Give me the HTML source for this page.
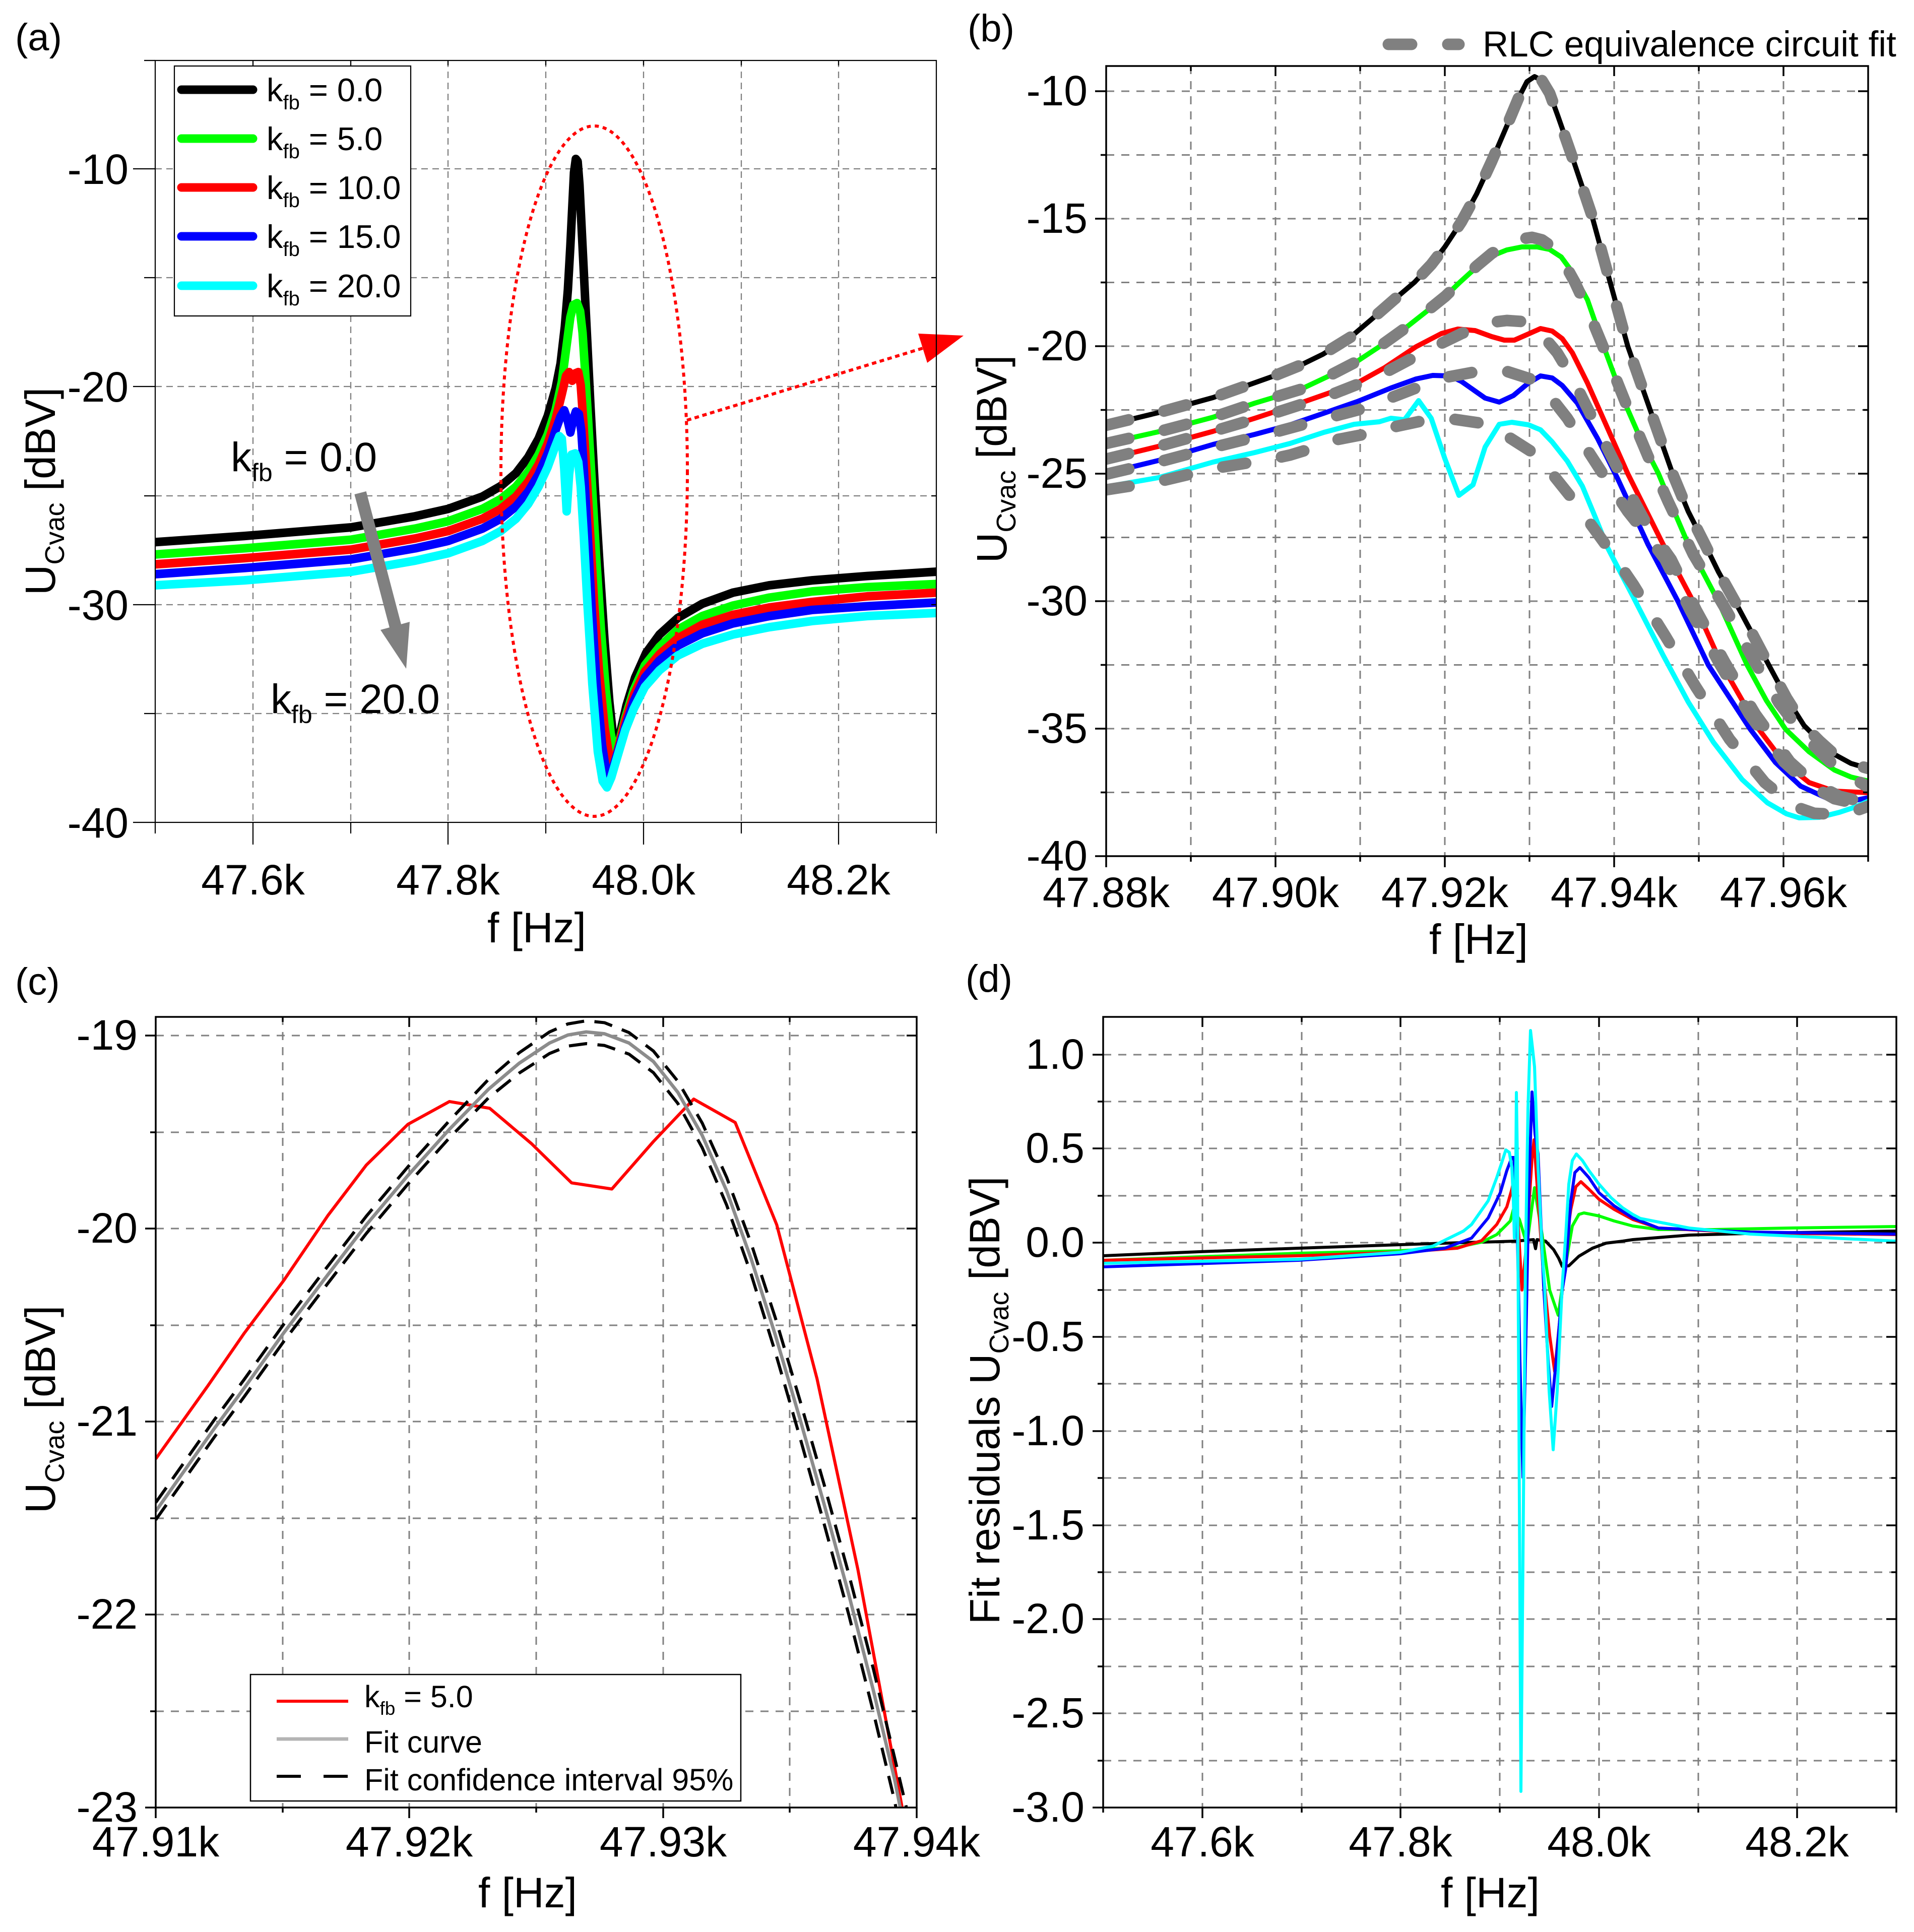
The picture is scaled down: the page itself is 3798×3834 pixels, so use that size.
<!DOCTYPE html>
<html><head><meta charset="utf-8"><style>
html,body{margin:0;padding:0;background:#fff;}
svg{display:block;}
text{font-family:"Liberation Sans",Arial,sans-serif;fill:#000;}
</style></head><body>
<svg xmlns="http://www.w3.org/2000/svg" width="3798" height="3834" viewBox="0 0 3798 3834">
<defs>
<clipPath id="ca"><rect x="308" y="120" width="1550" height="1512"/></clipPath>
<clipPath id="cb"><rect x="2195" y="131" width="1512" height="1568"/></clipPath>
<clipPath id="cc"><rect x="309" y="2018" width="1510" height="1569"/></clipPath>
<clipPath id="cd"><rect x="2189" y="2018" width="1574" height="1569"/></clipPath>
</defs>
<rect width="3798" height="3834" fill="#fff"/>

<!-- ================= PANEL A ================= -->
<g stroke="#808080" stroke-width="2.3" stroke-dasharray="13 9" fill="none">
<path d="M502,120V1632M696,120V1632M889,120V1632M1083,120V1632M1277,120V1632M1471,120V1632M1664,120V1632"/>
<path d="M308,335H1858M308,551H1858M308,767H1858M308,984H1858M308,1200H1858M308,1416H1858"/>
</g>
<g clip-path="url(#ca)"><g transform="scale(1.2117,1.2226)" fill="none" stroke-width="14" stroke-linejoin="round" stroke-linecap="round">
<path stroke="#000" d="M254,880 L400,870 L575,856 L680,838 L734,826 L790,806 L820,789 L845,768 L865,742 L882,712 L897,675 L910,630 L918,590 L925,530 L930,470 L934,400 L937,340 L940,280 L943,258 L946,262 L949,300 L952,360 L956,440 L961,540 L967,660 L974,790 L982,920 L990,1040 L998,1140 L1004,1195 L1009,1212 L1016,1188 L1026,1145 L1040,1100 L1058,1060 L1080,1030 L1110,1003 L1150,980 L1200,962 L1260,950 L1330,942 L1420,935 L1533,928"/>
<path stroke="#00ff00" d="M254,900 L400,890 L575,876 L680,858 L734,846 L790,826 L820,810 L845,790 L865,766 L882,738 L897,705 L910,665 L920,620 L928,560 L934,515 L939,495 L945,492 L950,505 L954,540 L958,600 L963,680 L969,780 L976,900 L984,1020 L992,1120 L1000,1190 L1007,1225 L1014,1205 L1024,1165 L1038,1120 L1056,1080 L1080,1050 L1110,1022 L1150,1000 L1200,983 L1260,970 L1330,960 L1420,953 L1533,948"/>
<path stroke="#ff0000" d="M254,916 L400,906 L575,892 L680,874 L734,862 L790,842 L820,826 L845,806 L865,782 L882,754 L897,720 L910,680 L920,640 L927,610 L932,604 L937,618 L942,606 L947,604 L951,625 L955,680 L960,760 L966,860 L973,980 L981,1090 L990,1180 L998,1230 L1005,1240 L1013,1212 L1024,1170 L1038,1128 L1056,1090 L1080,1062 L1110,1036 L1150,1014 L1200,998 L1260,986 L1330,977 L1420,968 L1533,962"/>
<path stroke="#0000ff" d="M254,932 L400,922 L575,908 L680,890 L734,878 L790,858 L820,842 L845,822 L865,798 L882,770 L897,736 L910,698 L918,676 L924,666 L929,680 L934,702 L939,680 L943,668 L948,672 L952,700 L956,760 L962,860 L969,990 L977,1110 L986,1210 L994,1260 L1001,1255 L1012,1220 L1024,1180 L1038,1138 L1056,1100 L1080,1072 L1110,1048 L1150,1028 L1200,1012 L1260,1000 L1330,990 L1420,984 L1533,978"/>
<path stroke="#00ffff" d="M254,950 L400,942 L575,928 L680,910 L734,898 L790,878 L820,862 L845,842 L865,818 L882,790 L897,758 L908,728 L916,708 L920,712 L924,760 L928,830 L932,770 L936,738 L942,736 L947,750 L951,790 L956,870 L962,980 L970,1110 L979,1220 L987,1268 L994,1278 L1001,1262 L1012,1225 L1024,1185 L1038,1150 L1056,1115 L1080,1088 L1110,1064 L1150,1045 L1200,1030 L1260,1018 L1330,1008 L1420,1000 L1533,995"/>
</g></g>
<!-- ellipse & arrows -->
<ellipse cx="1179" cy="935" rx="185" ry="685" fill="none" stroke="#ff0000" stroke-width="6" stroke-dasharray="8 8"/>
<line x1="1363" y1="834" x2="1831" y2="691" stroke="#ff0000" stroke-width="6" stroke-dasharray="9 7"/>
<polygon points="1912,666 1840,720 1822,662" fill="#ff0000"/>
<line x1="715" y1="978" x2="786" y2="1248" stroke="#808080" stroke-width="24"/>
<polygon points="806,1327 813,1234 755,1250" fill="#808080"/>
<!-- frame & ticks A -->
<rect x="308" y="120" width="1550" height="1512" fill="none" stroke="#000" stroke-width="2.2"/>
<path fill="none" stroke="#000" stroke-width="2.2" d="M502,1632V1676M889,1632V1676M1277,1632V1676M1664,1632V1676M308,1632V1654M696,1632V1654M1083,1632V1654M1471,1632V1654M1858,1632V1654M308,335H264M308,767H264M308,1200H264M308,1632H264M308,120H286M308,551H286M308,984H286M308,1416H286M502,120V130M696,120V130M889,120V130M1083,120V130M1277,120V130M1471,120V130M1664,120V130M1858,335H1848M1858,551H1848M1858,767H1848M1858,984H1848M1858,1200H1848M1858,1416H1848"/>
<!-- legend A -->
<rect x="346" y="131" width="469" height="496" fill="#fff" stroke="#000" stroke-width="2.2"/>
<g stroke-width="17" stroke-linecap="round">
<line x1="360" y1="178" x2="502" y2="178" stroke="#000"/>
<line x1="360" y1="275" x2="502" y2="275" stroke="#00ff00"/>
<line x1="360" y1="372" x2="502" y2="372" stroke="#ff0000"/>
<line x1="360" y1="469" x2="502" y2="469" stroke="#0000ff"/>
<line x1="360" y1="567" x2="502" y2="567" stroke="#00ffff"/>
</g>
<g font-size="65">
<text x="529" y="201">k<tspan font-size="40" dy="16">fb</tspan><tspan dy="-16"> = 0.0</tspan></text>
<text x="529" y="298">k<tspan font-size="40" dy="16">fb</tspan><tspan dy="-16"> = 5.0</tspan></text>
<text x="529" y="395">k<tspan font-size="40" dy="16">fb</tspan><tspan dy="-16"> = 10.0</tspan></text>
<text x="529" y="492">k<tspan font-size="40" dy="16">fb</tspan><tspan dy="-16"> = 15.0</tspan></text>
<text x="529" y="590">k<tspan font-size="40" dy="16">fb</tspan><tspan dy="-16"> = 20.0</tspan></text>
</g>
<text x="458" y="935" font-size="82">k<tspan font-size="50" dy="20">fb</tspan><tspan dy="-20"> = 0.0</tspan></text>
<text x="537" y="1415" font-size="82">k<tspan font-size="50" dy="20">fb</tspan><tspan dy="-20"> = 20.0</tspan></text>
<!-- labels A -->
<g font-size="84" text-anchor="end">
<text x="255" y="365">-10</text><text x="255" y="797">-20</text><text x="255" y="1230">-30</text><text x="255" y="1662">-40</text>
</g>
<g font-size="84" text-anchor="middle">
<text x="502" y="1775">47.6k</text><text x="889" y="1775">47.8k</text><text x="1277" y="1775">48.0k</text><text x="1664" y="1775">48.2k</text>
<text x="1065" y="1870">f [Hz]</text>
<text transform="translate(109,975) rotate(-90)">U<tspan font-size="54" dy="18">Cvac</tspan><tspan dy="-18"> [dBV]</tspan></text>
</g>
<text x="30" y="100" font-size="76">(a)</text>

<!-- ================= PANEL B ================= -->
<g stroke="#808080" stroke-width="3" stroke-dasharray="16 14" fill="none">
<path d="M2363,131V1699M2531,131V1699M2699,131V1699M2867,131V1699M3035,131V1699M3203,131V1699M3371,131V1699M3539,131V1699"/>
<path d="M2195,181H3707M2195,307.5H3707M2195,434H3707M2195,560.5H3707M2195,687H3707M2195,813.5H3707M2195,940H3707M2195,1066.5H3707M2195,1193H3707M2195,1319.5H3707M2195,1446H3707M2195,1572.5H3707"/>
</g>
<g clip-path="url(#cb)" fill="none" stroke-linejoin="round" stroke-linecap="round">
<g stroke-width="10">
<path stroke="#000" d="M2195,844 L2298,819 L2407,789 L2528,746 L2580,725 L2625,703 L2680,669 L2720,635 L2767,594 L2807,560 L2840,525 L2867,490 L2900,440 L2930,385 L2960,320 L2990,250 L3013,195 L3030,162 L3045,152 L3060,160 L3075,185 L3092,232 L3122,318 L3158,425 L3195,560 L3230,687 L3275,815 L3319,940 L3350,1015 L3383,1080 L3410,1135 L3443,1194 L3480,1263 L3510,1320 L3545,1385 L3580,1440 L3610,1470 L3640,1497 L3673,1515 L3707,1525"/>
<path stroke="#00ff00" d="M2195,880 L2298,857 L2407,828 L2490,800 L2580,773 L2633,748 L2693,717 L2737,688 L2790,650 L2837,613 L2868,588 L2897,560 L2930,530 L2960,508 L2990,496 L3020,490 L3050,490 L3075,495 L3098,510 L3120,540 L3150,595 L3182,687 L3220,790 L3255,870 L3291,940 L3320,1010 L3350,1080 L3410,1194 L3467,1320 L3505,1390 L3543,1447 L3590,1492 L3640,1528 L3673,1542 L3707,1550"/>
<path stroke="#ff0000" d="M2195,911 L2298,886 L2407,856 L2490,830 L2560,807 L2637,780 L2693,760 L2747,730 L2810,688 L2860,662 L2893,653 L2927,656 L2960,668 L2985,675 L3005,675 L3030,664 L3057,652 L3080,657 L3100,672 L3120,700 L3150,760 L3190,850 L3230,940 L3265,1010 L3300,1080 L3360,1194 L3417,1320 L3490,1447 L3540,1513 L3590,1553 L3640,1570 L3707,1573"/>
<path stroke="#0000ff" d="M2195,939 L2298,914 L2407,882 L2490,862 L2560,843 L2627,820 L2693,797 L2760,770 L2810,752 L2843,745 L2877,746 L2900,757 L2947,790 L2975,798 L3003,785 L3033,760 L3057,746 L3080,750 L3100,765 L3130,800 L3170,870 L3210,950 L3240,1015 L3270,1080 L3330,1194 L3390,1320 L3473,1447 L3523,1513 L3573,1560 L3623,1583 L3673,1590 L3707,1583"/>
<path stroke="#00ffff" d="M2195,966 L2298,948 L2407,917 L2490,898 L2560,880 L2627,858 L2687,842 L2737,837 L2760,830 L2787,833 L2815,795 L2840,830 L2867,910 L2895,983 L2923,962 L2947,887 L2975,842 L3000,838 L3033,843 L3057,853 L3080,877 L3110,915 L3140,965 L3165,1025 L3190,1087 L3240,1183 L3300,1300 L3350,1393 L3400,1473 L3457,1547 L3507,1593 L3545,1615 L3570,1623 L3610,1622 L3650,1612 L3680,1602 L3707,1590"/>
</g>
<g stroke="#808080" stroke-width="23" stroke-dasharray="46 72">
<path d="M2195,844 L2298,819 L2407,789 L2528,746 L2580,725 L2625,703 L2680,669 L2720,635 L2767,594 L2807,560 L2840,525 L2867,490 L2900,440 L2930,385 L2960,320 L2990,250 L3013,195 L3030,162 L3045,152 L3060,160 L3075,185 L3092,232 L3122,318 L3158,425 L3195,560 L3230,687 L3275,815 L3319,940 L3350,1015 L3383,1080 L3410,1135 L3443,1194 L3480,1263 L3510,1320 L3545,1385 L3580,1440 L3610,1470 L3640,1497 L3673,1515 L3707,1525"/>
<path d="M2195,880 L2298,857 L2407,828 L2490,800 L2580,773 L2633,748 L2693,717 L2737,688 L2790,650 L2837,613 L2868,588 L2897,560 L2930,528 L2960,503 L2990,485 L3020,474 L3040,471 L3060,476 L3080,490 L3100,515 L3125,560 L3155,625 L3190,710 L3230,810 L3270,905 L3310,995 L3360,1100 L3425,1210 L3480,1310 L3530,1395 L3580,1460 L3630,1510 L3670,1540 L3707,1562"/>
<path d="M2195,911 L2298,886 L2407,856 L2528,820 L2637,785 L2693,763 L2747,740 L2800,712 L2857,683 L2900,662 L2957,640 L2990,636 L3020,638 L3063,668 L3090,700 L3120,750 L3160,830 L3200,910 L3240,990 L3270,1045 L3316,1110 L3366,1211 L3423,1315 L3483,1417 L3552,1512 L3600,1555 L3650,1580 L3707,1594"/>
<path d="M2195,941 L2298,917 L2407,888 L2528,858 L2640,828 L2700,812 L2753,792 L2810,770 L2863,750 L2927,738 L2960,735 L2990,737 L3040,753 L3073,783 L3110,830 L3150,893 L3190,955 L3230,1015 L3270,1065 L3304,1110 L3354,1211 L3411,1315 L3471,1417 L3540,1512 L3590,1557 L3640,1585 L3707,1600"/>
<path d="M2195,972 L2298,956 L2407,930 L2528,910 L2560,903 L2593,893 L2650,873 L2707,862 L2767,847 L2823,835 L2860,832 L2885,832 L2940,840 L2993,867 L3040,897 L3080,940 L3120,990 L3160,1045 L3200,1100 L3241,1160 L3305,1263 L3365,1363 L3432,1467 L3502,1553 L3560,1600 L3600,1614 L3643,1616 L3680,1610 L3707,1600"/>
</g>
</g>
<rect x="2195" y="131" width="1512" height="1568" fill="none" stroke="#000" stroke-width="3.5"/>
<path fill="none" stroke="#000" stroke-width="3.5" d="M2195,1699V1721M2531,1699V1721M2867,1699V1721M3203,1699V1721M3539,1699V1721M2363,1699V1710M2699,1699V1710M3035,1699V1710M3371,1699V1710M3707,1699V1710M2195,181H2173M2195,434H2173M2195,687H2173M2195,940H2173M2195,1193H2173M2195,1446H2173M2195,1699H2173M2195,307.5H2184M2195,560.5H2184M2195,813.5H2184M2195,1066.5H2184M2195,1319.5H2184M2195,1572.5H2184M3707,181H3687M3707,434H3687M3707,687H3687M3707,940H3687M3707,1193H3687M3707,1446H3687M3707,307.5H3697M3707,560.5H3697M3707,813.5H3697M3707,1066.5H3697M3707,1319.5H3697M3707,1572.5H3697M2531,131V151M2867,131V151M3203,131V151M3539,131V151M2363,131V141M2699,131V141M3035,131V141M3371,131V141"/>
<!-- legend B -->
<g stroke="#808080" stroke-width="23" stroke-linecap="round">
<line x1="2755" y1="88" x2="2801" y2="88"/><line x1="2873" y1="88" x2="2895" y2="88"/>
</g>
<text x="2942" y="112" font-size="71">RLC equivalence circuit fit</text>
<g font-size="84" text-anchor="end">
<text x="2158" y="209">-10</text><text x="2158" y="462">-15</text><text x="2158" y="715">-20</text><text x="2158" y="968">-25</text><text x="2158" y="1221">-30</text><text x="2158" y="1474">-35</text><text x="2158" y="1727">-40</text>
</g>
<g font-size="84" text-anchor="middle">
<text x="2195" y="1800">47.88k</text><text x="2531" y="1800">47.90k</text><text x="2867" y="1800">47.92k</text><text x="3203" y="1800">47.94k</text><text x="3539" y="1800">47.96k</text>
<text x="2934" y="1893">f [Hz]</text>
<text transform="translate(1997,911) rotate(-90)">U<tspan font-size="54" dy="18">Cvac</tspan><tspan dy="-18"> [dBV]</tspan></text>
</g>
<text x="1920" y="82" font-size="76">(b)</text>

<!-- ================= PANEL C ================= -->
<g stroke="#808080" stroke-width="3" stroke-dasharray="16 14" fill="none">
<path d="M561,2018V3587M812,2018V3587M1064,2018V3587M1316,2018V3587M1567,2018V3587"/>
<path d="M309,2055H1819M309,2247H1819M309,2438H1819M309,2630H1819M309,2821H1819M309,3013H1819M309,3204H1819M309,3396H1819"/>
</g>
<g clip-path="url(#cc)"><g transform="translate(0,1917) scale(1.2117,1.2226)" fill="none" stroke-linejoin="round">
<path stroke="#ff0000" stroke-width="5" d="M255,800 L340,682 L400,596 L465,510 L537,405 L600,323 L668,257 L736,220 L802,231 L870,288 L936,352 L1002,362 L1070,285 L1136,216 L1204,254 L1272,420 L1338,670 L1405,980 L1480,1380"/>
<path stroke="#8c8c8c" stroke-width="5.5" d="M255,885 L300,822 L350,752 L400,685 L465,595 L530,510 L600,420 L668,340 L736,265 L800,200 L850,158 L900,125 L930,112 L960,107 L990,110 L1030,125 L1070,155 L1110,205 L1150,275 L1190,365 L1230,475 L1270,600 L1310,735 L1350,875 L1390,1020 L1430,1175 L1465,1320 L1477,1380"/>
<g stroke="#000" stroke-width="5" stroke-dasharray="30 17">
<path d="M255,871 L300,808 L350,738 L400,671 L465,581 L530,496 L600,406 L668,326 L736,251 L800,184 L850,141 L900,107 L930,94 L960,89 L990,92 L1030,108 L1070,138 L1110,187 L1150,255 L1190,343 L1230,450 L1270,572 L1310,705 L1350,843 L1390,987 L1430,1140 L1465,1285 L1490,1390"/>
<path d="M255,899 L300,836 L350,766 L400,699 L465,609 L530,524 L600,434 L668,354 L736,279 L800,214 L850,174 L900,142 L930,130 L960,126 L990,129 L1030,143 L1070,173 L1110,223 L1150,295 L1190,388 L1230,500 L1270,628 L1310,765 L1350,907 L1390,1053 L1430,1210 L1465,1355 L1472,1390"/>
</g>
</g></g>
<rect x="309" y="2018" width="1510" height="1569" fill="none" stroke="#000" stroke-width="3.5"/>
<path fill="none" stroke="#000" stroke-width="3.5" d="M309,3587V3608M812,3587V3608M1316,3587V3608M1819,3587V3608M561,3587V3597M1064,3587V3597M1567,3587V3597M309,2055H288M309,2438H288M309,2821H288M309,3204H288M309,3587H288M309,2247H298M309,2630H298M309,3013H298M309,3396H298M1819,2055H1799M1819,2438H1799M1819,2821H1799M1819,3204H1799M1819,2247H1809M1819,2630H1809M1819,3013H1809M1819,3396H1809M812,2018V2038M1316,2018V2038M561,2018V2028M1064,2018V2028M1567,2018V2028"/>
<!-- legend C -->
<rect x="497" y="3323" width="973" height="251" fill="#fff" stroke="#000" stroke-width="2.5"/>
<line x1="549" y1="3376" x2="691" y2="3376" stroke="#ff0000" stroke-width="6"/>
<line x1="549" y1="3451" x2="691" y2="3451" stroke="#b4b4b4" stroke-width="7"/>
<line x1="549" y1="3525" x2="691" y2="3525" stroke="#000" stroke-width="6" stroke-dasharray="48 45"/>
<g font-size="61">
<text x="723" y="3388">k<tspan font-size="37" dy="15">fb</tspan><tspan dy="-15"> = 5.0</tspan></text>
<text x="723" y="3478">Fit curve</text>
<text x="723" y="3553">Fit confidence interval 95%</text>
</g>
<g font-size="84" text-anchor="end">
<text x="273" y="2083">-19</text><text x="273" y="2466">-20</text><text x="273" y="2849">-21</text><text x="273" y="3232">-22</text><text x="273" y="3615">-23</text>
</g>
<g font-size="84" text-anchor="middle">
<text x="309" y="3684">47.91k</text><text x="812" y="3684">47.92k</text><text x="1316" y="3684">47.93k</text><text x="1819" y="3684">47.94k</text>
<text x="1047" y="3785">f [Hz]</text>
<text transform="translate(109,2797) rotate(-90)">U<tspan font-size="54" dy="18">Cvac</tspan><tspan dy="-18"> [dBV]</tspan></text>
</g>
<text x="30" y="1974" font-size="76">(c)</text>

<!-- ================= PANEL D ================= -->
<g stroke="#808080" stroke-width="3" stroke-dasharray="16 14" fill="none">
<path d="M2386,2018V3587M2583,2018V3587M2779,2018V3587M2976,2018V3587M3173,2018V3587M3370,2018V3587M3566,2018V3587"/>
<path d="M2189,2093H3763M2189,2186H3763M2189,2279H3763M2189,2373H3763M2189,2466H3763M2189,2560H3763M2189,2653H3763M2189,2746H3763M2189,2840H3763M2189,2933H3763M2189,3027H3763M2189,3120H3763M2189,3213H3763M2189,3307H3763M2189,3400H3763M2189,3494H3763"/>
</g>
<g clip-path="url(#cd)" fill="none" stroke-width="6" stroke-linejoin="round">
<path stroke="#000" d="M2189,2492 L2380,2484 L2577,2477 L2779,2470 L2900,2466 L2976,2464 L3007,2463 L3043,2460 L3047,2478 L3050,2460 L3067,2463 L3083,2480 L3093,2497 L3100,2513 L3113,2512 L3133,2493 L3160,2477 L3187,2467 L3220,2463 L3240,2460 L3352,2451 L3500,2447 L3762,2443"/>
<path stroke="#00ff00" d="M2189,2501 L2380,2494 L2577,2487 L2779,2482 L2892,2475 L2940,2465 L2970,2450 L2997,2423 L3003,2400 L3015,2420 L3030,2470 L3045,2357 L3060,2450 L3075,2560 L3092,2610 L3105,2520 L3120,2433 L3133,2410 L3143,2407 L3173,2413 L3203,2423 L3240,2433 L3291,2440 L3400,2440 L3550,2437 L3762,2434"/>
<path stroke="#ff0000" d="M2189,2501 L2577,2492 L2779,2485 L2892,2477 L2940,2462 L2970,2430 L2990,2395 L3000,2360 L3005,2335 L3012,2420 L3020,2560 L3028,2480 L3040,2300 L3044,2262 L3050,2350 L3062,2520 L3075,2650 L3085,2722 L3095,2620 L3107,2470 L3117,2400 L3127,2355 L3137,2345 L3153,2360 L3173,2380 L3203,2400 L3240,2420 L3291,2437 L3473,2447 L3762,2450"/>
<path stroke="#0000ff" d="M2189,2514 L2577,2501 L2779,2488 L2867,2477 L2920,2457 L2953,2417 L2977,2367 L2990,2323 L3000,2297 L3004,2297 L3010,2400 L3016,2700 L3022,2932 L3028,2650 L3034,2350 L3040,2167 L3046,2250 L3052,2290 L3063,2550 L3072,2700 L3079,2791 L3088,2700 L3100,2560 L3107,2517 L3117,2383 L3125,2327 L3135,2317 L3153,2337 L3173,2367 L3203,2393 L3240,2417 L3291,2437 L3473,2445 L3762,2449"/>
<path stroke="#00ffff" d="M2189,2507 L2577,2499 L2779,2485 L2843,2473 L2904,2443 L2920,2430 L2953,2383 L2970,2337 L2980,2307 L2988,2282 L2995,2287 L3000,2317 L3003,2383 L3005,2457 L3008,2300 L3009,2168 L3011,2300 L3014,2800 L3018,3555 L3022,3100 L3027,2500 L3032,2200 L3037,2045 L3041,2080 L3045,2117 L3052,2317 L3060,2483 L3065,2550 L3074,2760 L3082,2877 L3090,2760 L3100,2550 L3107,2450 L3113,2350 L3120,2303 L3128,2290 L3140,2303 L3153,2323 L3173,2350 L3197,2377 L3220,2397 L3240,2410 L3255,2418 L3352,2437 L3473,2449 L3762,2463"/>
</g>
<rect x="2189" y="2018" width="1574" height="1569" fill="none" stroke="#000" stroke-width="3.5"/>
<path fill="none" stroke="#000" stroke-width="3.5" d="M2386,3587V3608M2779,3587V3608M3173,3587V3608M3566,3587V3608M2189,3587V3597M2583,3587V3597M2976,3587V3597M3370,3587V3597M3763,3587V3597M2189,2093H2168M2189,2279H2168M2189,2466H2168M2189,2653H2168M2189,2840H2168M2189,3027H2168M2189,3213H2168M2189,3400H2168M2189,3587H2168M2189,2186H2178M2189,2373H2178M2189,2560H2178M2189,2746H2178M2189,2933H2178M2189,3120H2178M2189,3307H2178M2189,3494H2178M3763,2093H3743M3763,2279H3743M3763,2466H3743M3763,2653H3743M3763,2840H3743M3763,3027H3743M3763,3213H3743M3763,3400H3743M3763,2186H3753M3763,2373H3753M3763,2560H3753M3763,2746H3753M3763,2933H3753M3763,3120H3753M3763,3307H3753M3763,3494H3753M2386,2018V2038M2779,2018V2038M3173,2018V2038M3566,2018V2038M2583,2018V2028M2976,2018V2028M3370,2018V2028"/>
<g font-size="84" text-anchor="end">
<text x="2152" y="2121">1.0</text><text x="2152" y="2307">0.5</text><text x="2152" y="2494">0.0</text><text x="2152" y="2681">-0.5</text><text x="2152" y="2868">-1.0</text><text x="2152" y="3055">-1.5</text><text x="2152" y="3241">-2.0</text><text x="2152" y="3428">-2.5</text><text x="2152" y="3615">-3.0</text>
</g>
<g font-size="84" text-anchor="middle">
<text x="2386" y="3684">47.6k</text><text x="2779" y="3684">47.8k</text><text x="3173" y="3684">48.0k</text><text x="3566" y="3684">48.2k</text>
<text x="2957" y="3785">f [Hz]</text>
<text transform="translate(1983,2779) rotate(-90)">Fit residuals U<tspan font-size="54" dy="18">Cvac</tspan><tspan dy="-18"> [dBV]</tspan></text>
</g>
<text x="1916" y="1968" font-size="76">(d)</text>
</svg>
</body></html>
